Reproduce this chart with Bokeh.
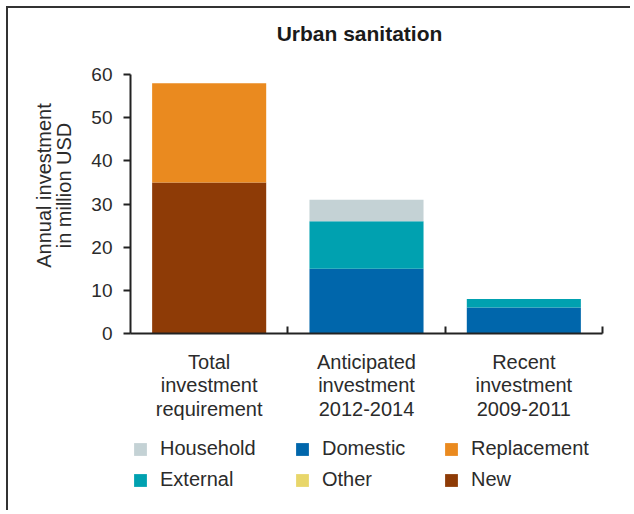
import math
from bokeh.plotting import figure
from bokeh.models import Range1d, FixedTicker, Legend, LegendItem, Label
from bokeh.embed import file_html
from bokeh.resources import INLINE

# ---- data ----
categories = ["Total\ninvestment\nrequirement",
              "Anticipated\ninvestment\n2012-2014",
              "Recent\ninvestment\n2009-2011"]
new = [35, 0, 0]
replacement = [23, 0, 0]
domestic = [0, 15, 6]
external = [0, 11, 2]
other = [0, 0, 0]
household = [0, 5, 0]
y_ticks = [0, 10, 20, 30, 40, 50, 60]
title_text = "Urban sanitation"
y_title = "Annual investment\nin million USD"

colors = {
    "New": "#8E3B06",
    "Replacement": "#EA8A1F",
    "Domestic": "#0066AB",
    "External": "#00A1B0",
    "Other": "#E8D66A",
    "Household": "#C4D2D5",
}
series = {"New": new, "Replacement": replacement, "Domestic": domestic,
          "External": external, "Other": other, "Household": household}
stack_order = ["New", "Replacement", "Domestic", "External", "Other", "Household"]
legend_columns = [["Household", "External"], ["Domestic", "Other"], ["Replacement", "New"]]

n = len(categories)
centers = [i + 0.5 for i in range(n)]
bounds = [i + 1 for i in range(n)]
y_max = y_ticks[-1]

# ---- layout (canvas pixels) ----
W, H = 624, 504
AX_X0, AX_X1 = 122, 594      # pixel position of x=0 and x=n
AX_Y0, AX_Y1 = 325, 66       # pixel position of y=0 and y=y_max (from top)
ppx = (AX_X1 - AX_X0) / n
ppy = (AX_Y0 - AX_Y1) / y_max
x_lo, x_hi = -AX_X0 / ppx, n + (W - AX_X1) / ppx
y_lo, y_hi = -(H - AX_Y0) / ppy, y_max + AX_Y1 / ppy
def px_x(px):
    return (px - AX_X0) / ppx
def px_y(py):
    return (AX_Y0 - py) / ppy

FONT = "Liberation Sans"
TXT = "#2b2b2b"

p = figure(width=W, height=H, output_backend="svg", toolbar_location=None,
           x_range=Range1d(x_lo, x_hi), y_range=Range1d(y_lo, y_hi),
           min_border=0)
p.title = None
p.styles = {"margin-left": "6px", "margin-top": "6px",
            "border-top": "2px solid #333333", "border-left": "2px solid #333333"}
p.outline_line_color = None
p.grid.grid_line_color = None
p.background_fill_color = "white"
p.border_fill_color = "white"

src = {"x": centers}
src.update(series)
renderers = p.vbar_stack(stack_order, x="x", width=0.725, source=src,
                         color=[colors[s] for s in stack_order], line_color=None)
rmap = dict(zip(stack_order, renderers))

# title
p.add_layout(Label(x=px_x(351), y=px_y(24.5), text=title_text,
                   text_align="center", text_baseline="middle",
                   text_font=FONT, text_font_style="bold", text_font_size="21px",
                   text_color="#1a1a1a"))

# y axis title
p.add_layout(Label(x=px_x(45.5), y=px_y(177), text=y_title, angle=math.pi / 2,
                   text_align="center", text_baseline="middle",
                   text_font=FONT, text_font_size="20px", text_color=TXT,
                   text_line_height=0.95))

# y axis on x=0
ya = p.yaxis[0]
ya.fixed_location = 0
ya.bounds = (0, y_max)
ya.ticker = FixedTicker(ticks=y_ticks)
ya.major_label_text_font = FONT
ya.major_label_text_font_size = "19px"
ya.major_label_text_color = TXT
ya.major_label_standoff = 11
ya.major_tick_out = 7
ya.major_tick_in = 0
ya.minor_tick_out = 0
ya.minor_tick_in = 0
ya.axis_line_width = 2
ya.major_tick_line_width = 2
ya.axis_line_color = "#222222"
ya.major_tick_line_color = "#222222"

# x axis on y=0
xa = p.xaxis[0]
xa.fixed_location = 0
xa.bounds = (0, n)
xa.ticker = FixedTicker(ticks=centers, minor_ticks=bounds)
xa.major_label_overrides = {c: lab for c, lab in zip(centers, categories)}
xa.major_label_text_font = FONT
xa.major_label_text_font_size = "20px"
xa.major_label_text_color = TXT
xa.major_label_text_align = "center"
xa.major_label_text_line_height = 1.075
xa.major_label_standoff = 17
xa.major_tick_in = 0
xa.major_tick_out = 0
xa.minor_tick_in = 7
xa.minor_tick_out = 0
xa.minor_tick_line_width = 2
xa.minor_tick_line_color = "#222222"
xa.axis_line_width = 2
xa.axis_line_color = "#222222"

# legend: three columns of two rows
col_x = [124, 286, 435]
for names, lx in zip(legend_columns, col_x):
    lg = Legend(items=[LegendItem(label=nm, renderers=[rmap[nm]]) for nm in names],
                location=(lx, 21), orientation="vertical",
                glyph_width=16, glyph_height=16, label_standoff=12,
                label_text_font=FONT, label_text_font_size="20px",
                label_text_color=TXT, label_height=20, spacing=8,
                padding=0, margin=0, border_line_color=None,
                background_fill_alpha=0)
    p.add_layout(lg, "center")

open("out.html", "w").write(file_html(p, INLINE))
